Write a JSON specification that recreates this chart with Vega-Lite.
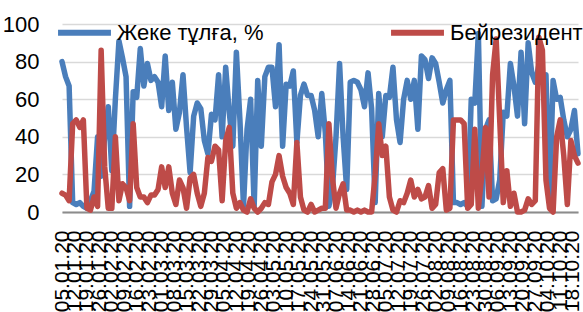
{
"$schema": "https://vega.github.io/schema/vega-lite/v6.json",
"width": 516, "height": 188,
"autosize": {"type": "none"},
"padding": {"left": 62, "top": 24, "right": 5, "bottom": 100},
"background": "white",
"config": {"font": "Liberation Sans", "view": {"stroke": null}},
"data": {"values": [
{"d":"2020-01-05","p":80,"n":10},{"d":"2020-01-07","p":72,"n":9},{"d":"2020-01-09","p":67,"n":6},{"d":"2020-01-11","p":5,"n":47},{"d":"2020-01-13","p":4,"n":49},{"d":"2020-01-15","p":5,"n":45},{"d":"2020-01-17","p":3,"n":49},{"d":"2020-01-19","p":2,"n":2},{"d":"2020-01-21","p":6,"n":1},{"d":"2020-01-23","p":11,"n":8},{"d":"2020-01-25","p":40,"n":3},{"d":"2020-01-27","p":19,"n":86},{"d":"2020-01-29","p":40,"n":24},{"d":"2020-01-31","p":56,"n":2},
{"d":"2020-02-02","p":22,"n":2},{"d":"2020-02-04","p":60,"n":40},{"d":"2020-02-06","p":91,"n":6},{"d":"2020-02-08","p":82,"n":15},{"d":"2020-02-10","p":72,"n":13},{"d":"2020-02-12","p":3,"n":6},{"d":"2020-02-14","p":64,"n":47},{"d":"2020-02-16","p":61,"n":13},{"d":"2020-02-18","p":87,"n":8},{"d":"2020-02-20","p":67,"n":8},{"d":"2020-02-22","p":79,"n":5},{"d":"2020-02-24","p":70,"n":9},{"d":"2020-02-26","p":72,"n":9},{"d":"2020-02-28","p":69,"n":12},
{"d":"2020-03-01","p":56,"n":24},{"d":"2020-03-03","p":83,"n":13},{"d":"2020-03-05","p":54,"n":24},{"d":"2020-03-07","p":69,"n":10},{"d":"2020-03-09","p":44,"n":4},{"d":"2020-03-11","p":53,"n":17},{"d":"2020-03-13","p":73,"n":13},{"d":"2020-03-15","p":45,"n":2},{"d":"2020-03-17","p":21,"n":18},{"d":"2020-03-19","p":51,"n":20},{"d":"2020-03-21","p":58,"n":10},{"d":"2020-03-23","p":55,"n":3},{"d":"2020-03-25","p":38,"n":10},{"d":"2020-03-27","p":31,"n":29},{"d":"2020-03-29","p":52,"n":27},{"d":"2020-03-31","p":49,"n":35},
{"d":"2020-04-02","p":73,"n":33},{"d":"2020-04-04","p":40,"n":6},{"d":"2020-04-06","p":77,"n":38},{"d":"2020-04-08","p":53,"n":45},{"d":"2020-04-10","p":35,"n":10},{"d":"2020-04-12","p":85,"n":2},{"d":"2020-04-14","p":49,"n":5},{"d":"2020-04-16","p":3,"n":1},{"d":"2020-04-18","p":44,"n":0},{"d":"2020-04-20","p":60,"n":7},{"d":"2020-04-22","p":3,"n":2},{"d":"2020-04-24","p":70,"n":0},{"d":"2020-04-26","p":35,"n":2},{"d":"2020-04-28","p":72,"n":5},{"d":"2020-04-30","p":77,"n":4},
{"d":"2020-05-02","p":77,"n":16},{"d":"2020-05-04","p":56,"n":20},{"d":"2020-05-06","p":89,"n":30},{"d":"2020-05-08","p":35,"n":19},{"d":"2020-05-10","p":68,"n":13},{"d":"2020-05-12","p":67,"n":10},{"d":"2020-05-14","p":75,"n":4},{"d":"2020-05-16","p":37,"n":37},{"d":"2020-05-18","p":62,"n":8},{"d":"2020-05-20","p":68,"n":1},{"d":"2020-05-22","p":62,"n":0},{"d":"2020-05-24","p":62,"n":4},{"d":"2020-05-26","p":54,"n":0},{"d":"2020-05-28","p":40,"n":1},{"d":"2020-05-30","p":63,"n":2},
{"d":"2020-06-01","p":42,"n":2},{"d":"2020-06-03","p":3,"n":47},{"d":"2020-06-05","p":13,"n":18},{"d":"2020-06-07","p":40,"n":2},{"d":"2020-06-09","p":79,"n":10},{"d":"2020-06-11","p":40,"n":15},{"d":"2020-06-13","p":12,"n":1},{"d":"2020-06-15","p":69,"n":1},{"d":"2020-06-17","p":70,"n":0},{"d":"2020-06-19","p":69,"n":1},{"d":"2020-06-21","p":65,"n":0},{"d":"2020-06-23","p":56,"n":1},{"d":"2020-06-25","p":74,"n":0},{"d":"2020-06-27","p":55,"n":0},{"d":"2020-06-29","p":5,"n":20},
{"d":"2020-07-01","p":63,"n":47},{"d":"2020-07-03","p":40,"n":30},{"d":"2020-07-05","p":62,"n":35},{"d":"2020-07-07","p":61,"n":8},{"d":"2020-07-09","p":77,"n":1},{"d":"2020-07-11","p":49,"n":0},{"d":"2020-07-13","p":37,"n":6},{"d":"2020-07-15","p":60,"n":5},{"d":"2020-07-17","p":70,"n":10},{"d":"2020-07-19","p":60,"n":17},{"d":"2020-07-21","p":70,"n":8},{"d":"2020-07-23","p":44,"n":12},{"d":"2020-07-25","p":83,"n":7},{"d":"2020-07-27","p":81,"n":8},{"d":"2020-07-29","p":71,"n":14},{"d":"2020-07-31","p":82,"n":2},
{"d":"2020-08-02","p":79,"n":4},{"d":"2020-08-04","p":69,"n":21},{"d":"2020-08-06","p":58,"n":23},{"d":"2020-08-08","p":65,"n":1},{"d":"2020-08-10","p":70,"n":2},{"d":"2020-08-12","p":5,"n":49},{"d":"2020-08-14","p":5,"n":49},{"d":"2020-08-16","p":4,"n":49},{"d":"2020-08-18","p":5,"n":47},{"d":"2020-08-20","p":3,"n":2},{"d":"2020-08-22","p":60,"n":4},{"d":"2020-08-24","p":58,"n":44},{"d":"2020-08-26","p":95,"n":2},{"d":"2020-08-28","p":3,"n":20},{"d":"2020-08-30","p":44,"n":45},
{"d":"2020-09-01","p":49,"n":8},{"d":"2020-09-03","p":6,"n":73},{"d":"2020-09-05","p":7,"n":92},{"d":"2020-09-07","p":17,"n":49},{"d":"2020-09-09","p":53,"n":5},{"d":"2020-09-11","p":51,"n":22},{"d":"2020-09-13","p":79,"n":3},{"d":"2020-09-15","p":67,"n":10},{"d":"2020-09-17","p":51,"n":0},{"d":"2020-09-19","p":85,"n":0},{"d":"2020-09-21","p":47,"n":1},{"d":"2020-09-23","p":90,"n":7},{"d":"2020-09-25","p":74,"n":4},{"d":"2020-09-27","p":69,"n":6},{"d":"2020-09-29","p":78,"n":93},
{"d":"2020-10-01","p":69,"n":86},{"d":"2020-10-03","p":73,"n":17},{"d":"2020-10-05","p":6,"n":2},{"d":"2020-10-07","p":70,"n":0},{"d":"2020-10-09","p":60,"n":40},{"d":"2020-10-11","p":61,"n":49},{"d":"2020-10-13","p":49,"n":30},{"d":"2020-10-15","p":40,"n":4},{"d":"2020-10-17","p":44,"n":38},{"d":"2020-10-19","p":54,"n":30},{"d":"2020-10-21","p":31,"n":26}
]},
"transform": [{"fold": ["p", "n"], "as": ["s", "v"]}],
"mark": {"type": "line", "strokeWidth": 5.5, "strokeJoin": "round", "strokeCap": "round"},
"encoding": {
  "x": {"field": "d", "type": "temporal",
    "scale": {"type": "utc", "domain": [{"year": 2020, "month": 1, "date": 5, "utc": true}, {"year": 2020, "month": 10, "date": 21, "utc": true}], "nice": false},
    "axis": {"title": null, "format": "%d.%m.%y", "tickCount": {"interval": "week", "step": 1}, "labelAngle": -90, "labelOverlap": false, "labelFlush": false, "labelFontSize": 21, "labelColor": "black", "labelPadding": 18, "ticks": false, "grid": false, "domainColor": "#8c8c8c", "domainWidth": 2, "labelBaseline": "middle"}},
  "y": {"field": "v", "type": "quantitative",
    "scale": {"domain": [0, 100], "nice": false},
    "axis": {"title": null, "values": [0, 20, 40, 60, 80, 100], "labelFontSize": 22, "labelColor": "black", "labelPadding": 23, "ticks": false, "domain": false, "gridColor": "#d9d9d9", "gridWidth": 1.5}},
  "color": {"field": "s", "type": "nominal",
    "scale": {"domain": ["p", "n"], "range": ["#4a7ebb", "#be4b48"]},
    "legend": {"title": null, "orient": "none", "legendX": -7, "legendY": -21, "padding": 0, "direction": "horizontal", "symbolType": "stroke", "symbolSize": 2800, "symbolStrokeWidth": 6, "labelFontSize": 22, "labelColor": "black", "labelLimit": 400, "columnPadding": 115, "labelOffset": 3,
      "labelExpr": "datum.label == 'p' ? 'Жеке тұлға, %' : 'Бейрезидент'"}}
}
}
